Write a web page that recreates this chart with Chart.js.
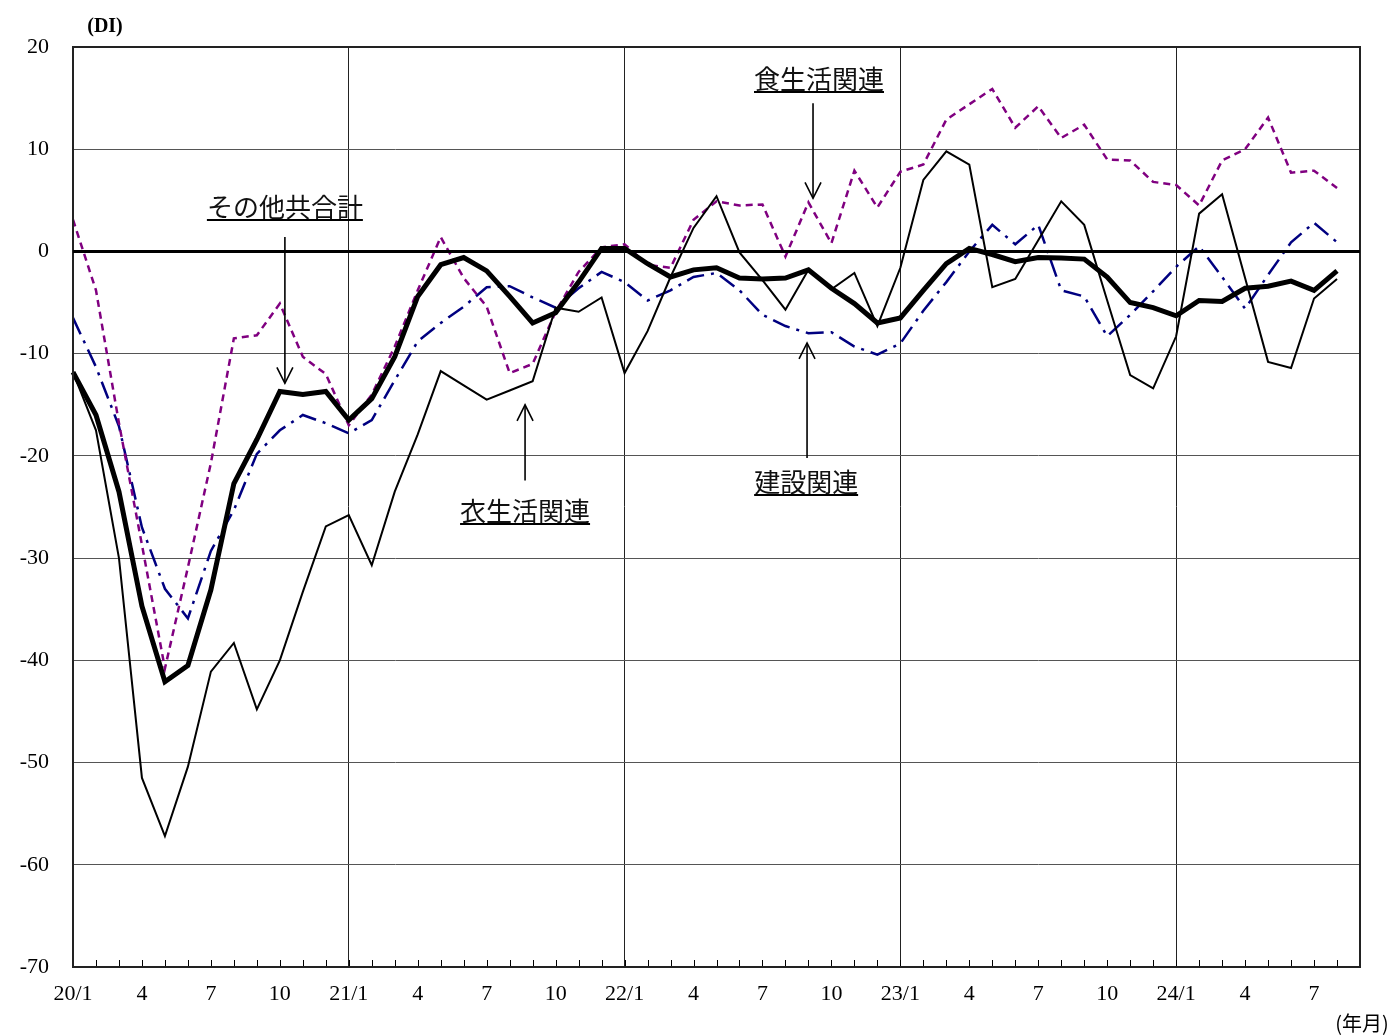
<!DOCTYPE html>
<html><head><meta charset="utf-8">
<script src="https://cdn.jsdelivr.net/npm/chart.js@4.4.1/dist/chart.umd.min.js"></script>
<style>html,body{margin:0;padding:0;background:#fff}</style>
</head><body>
<canvas id="c" width="1398" height="1036"></canvas>
<script>
// x-axis tick labels (one per month position, 20/1 .. 24/9 edge) : 57 positions
const tickLabels = [
 '20/1','','','4','','','7','','','10','','',
 '21/1','','','4','','','7','','','10','','',
 '22/1','','','4','','','7','','','10','','',
 '23/1','','','4','','','7','','','10','','',
 '24/1','','','4','','','7','',''
];
// その他共合計
const total = [-11.8,-16.0,-23.5,-34.7,-42.1,-40.5,-33.1,-22.7,-18.4,-13.7,-14.0,-13.7,
 -16.5,-14.4,-10.3,-4.4,-1.3,-0.6,-1.9,-4.4,-7.0,-6.0,-3.0,0.3,
 0.3,-1.2,-2.5,-1.8,-1.6,-2.6,-2.7,-2.6,-1.8,-3.6,-5.1,-7.0,
 -6.5,-3.8,-1.2,0.3,-0.3,-1.0,-0.6,-0.65,-0.75,-2.5,-5.0,-5.5,
 -6.3,-4.8,-4.9,-3.6,-3.4,-2.9,-3.8,-1.9];
// 衣生活関連
const clothing = [-11.8,-17.5,-30.0,-51.5,-57.2,-50.4,-41.1,-38.3,-44.8,-40.0,-33.3,-26.9,
 -25.8,-30.7,-23.5,-17.9,-11.7,-13.1,-14.5,-13.6,-12.7,-5.5,-5.9,-4.5,
 -11.9,-7.8,-2.5,2.3,5.4,-0.1,-2.8,-5.7,-1.8,-3.7,-2.1,-7.3,
 -1.6,7.0,9.8,8.5,-3.5,-2.7,1.1,4.9,2.6,-4.8,-12.1,-13.4,
 -8.3,3.7,5.6,-2.6,-10.8,-11.4,-4.6,-2.7];
// 食生活関連
const food = [3.1,-3.8,-16.8,-28.7,-40.8,-30.9,-20.7,-8.5,-8.2,-5.1,-10.3,-12.0,
 -17.0,-14.0,-9.3,-3.8,1.4,-2.6,-5.4,-11.9,-11.0,-5.9,-2.0,0.4,
 0.7,-1.3,-1.6,3.1,4.9,4.5,4.6,-0.5,4.8,0.8,7.9,4.3,
 7.8,8.5,12.9,14.4,15.9,12.1,14.2,11.1,12.4,9.0,8.9,6.8,
 6.5,4.5,8.9,10.0,13.1,7.7,7.9,6.2];
// 建設関連
const construction = [-6.5,-11.3,-17.1,-27.0,-33.0,-35.9,-29.3,-25.3,-19.8,-17.5,-16.0,-16.8,
 -17.8,-16.5,-12.6,-8.8,-7.0,-5.4,-3.5,-3.4,-4.5,-5.5,-3.6,-2.0,
 -3.0,-4.8,-3.8,-2.5,-2.1,-3.8,-6.2,-7.3,-8.0,-7.9,-9.3,-10.1,
 -9.0,-5.8,-3.0,0.0,2.6,0.7,2.6,-3.8,-4.4,-8.3,-6.2,-3.9,
 -1.5,0.5,-2.5,-5.6,-2.3,0.9,2.8,0.9];

const seriesNames = ['その他共合計','衣生活関連','食生活関連','建設関連'];

// annotation labels with arrows (data coordinates: x = month index, y = DI)
const notes = [
 {text:'その他共合計', x:9.22, y:4.35, ax:9.22, from:1.41, to:-12.9},
 {text:'衣生活関連', x:19.67, y:-25.4, ax:19.67, from:-22.4, to:-15.0},
 {text:'食生活関連', x:32.46, y:16.87, ax:32.2, from:14.5, to:5.2},
 {text:'建設関連', x:31.9, y:-22.55, ax:31.94, from:-20.2, to:-8.95}
];

const JP = '"Noto Sans CJK JP"';
const NUM = '"Liberation Serif", "DejaVu Serif", serif';

const extras = {
  id:'extras',
  beforeDatasetsDraw(chart){
    const {ctx, chartArea:a, scales:{x}} = chart;
    ctx.save();
    ctx.strokeStyle='#000'; ctx.lineWidth=1;
    for(let i=0;i<tickLabels.length;i++){
      const px=Math.round(x.getPixelForValue(i))+0.5;
      ctx.beginPath(); ctx.moveTo(px,a.bottom); ctx.lineTo(px,a.bottom-7); ctx.stroke();
    }
    ctx.restore();
  },
  afterDraw(chart){
    const {ctx, chartArea:a, scales:{x,y}} = chart;
    ctx.save();
    // plot frame
    ctx.strokeStyle='#222'; ctx.lineWidth=2;
    ctx.strokeRect(a.left,a.top,a.right-a.left,a.bottom-a.top);
    // zero line
    ctx.strokeStyle='#000'; ctx.lineWidth=3;
    const y0=y.getPixelForValue(0);
    ctx.beginPath(); ctx.moveTo(a.left,y0); ctx.lineTo(a.right,y0); ctx.stroke();
    // unit labels
    ctx.fillStyle='#000';
    ctx.textAlign='center'; ctx.textBaseline='middle';
    ctx.font='bold 20px '+NUM;
    ctx.fillText('(DI)', a.left+32, a.top-20);
    ctx.font='20px '+JP;
    ctx.fillText('(年月)', a.right+2, a.bottom+56);
    // annotations
    ctx.font='26px '+JP;
    notes.forEach(n=>{
      const px=x.getPixelForValue(n.x), py=y.getPixelForValue(n.y);
      ctx.fillStyle='#111';
      ctx.fillText(n.text, px, py);
      const w=ctx.measureText(n.text).width;
      ctx.strokeStyle='#000'; ctx.lineWidth=2;
      ctx.beginPath(); ctx.moveTo(px-w/2,py+13); ctx.lineTo(px+w/2,py+13); ctx.stroke();
      const ax=x.getPixelForValue(n.ax), y1=y.getPixelForValue(n.from), y2=y.getPixelForValue(n.to);
      ctx.lineWidth=1.6;
      ctx.beginPath(); ctx.moveTo(ax,y1); ctx.lineTo(ax,y2); ctx.stroke();
      const d = y2>y1 ? -1 : 1;
      ctx.beginPath();
      ctx.moveTo(ax-8,y2+d*16); ctx.lineTo(ax,y2); ctx.lineTo(ax+8,y2+d*16);
      ctx.stroke();
    });
    ctx.restore();
  }
};

new Chart(document.getElementById('c'),{
  type:'line',
  data:{
    labels:tickLabels,
    datasets:[
      {label:seriesNames[0], data:total, borderColor:'#000', borderWidth:5, pointRadius:0, tension:0, borderJoinStyle:'miter'},
      {label:seriesNames[1], data:clothing, borderColor:'#000', borderWidth:2, pointRadius:0, tension:0},
      {label:seriesNames[2], data:food, borderColor:'#800080', borderWidth:2.5, borderDash:[7,5], pointRadius:0, tension:0},
      {label:seriesNames[3], data:construction, borderColor:'#000080', borderWidth:2.5, borderDash:[18,7,3,7], pointRadius:0, tension:0}
    ]
  },
  options:{
    responsive:false, animation:false,
    layout:{padding:{top:47,right:38,left:0,bottom:0}},
    plugins:{legend:{display:false}, tooltip:{enabled:false}},
    scales:{
      x:{
        type:'category', offset:false, bounds:'ticks',
        afterFit(s){ s.height=69; },
        grid:{drawTicks:false,
          color:(c)=> (c.index%12===0 || c.index===tickLabels.length-1) ? '#222' : 'rgba(0,0,0,0)',
          lineWidth:1},
        border:{color:'#222', width:2},
        ticks:{autoSkip:false, maxRotation:0, minRotation:0, padding:14, color:'#000',
          font:{family:NUM, size:22}}
      },
      y:{
        min:-70, max:20,
        afterFit(s){ s.width=73; },
        grid:{drawTicks:false, color:'#555', lineWidth:1},
        border:{color:'#222', width:2},
        ticks:{stepSize:10, padding:24, color:'#000', font:{family:NUM, size:22}}
      }
    }
  },
  plugins:[extras]
});
</script>
</body></html>
